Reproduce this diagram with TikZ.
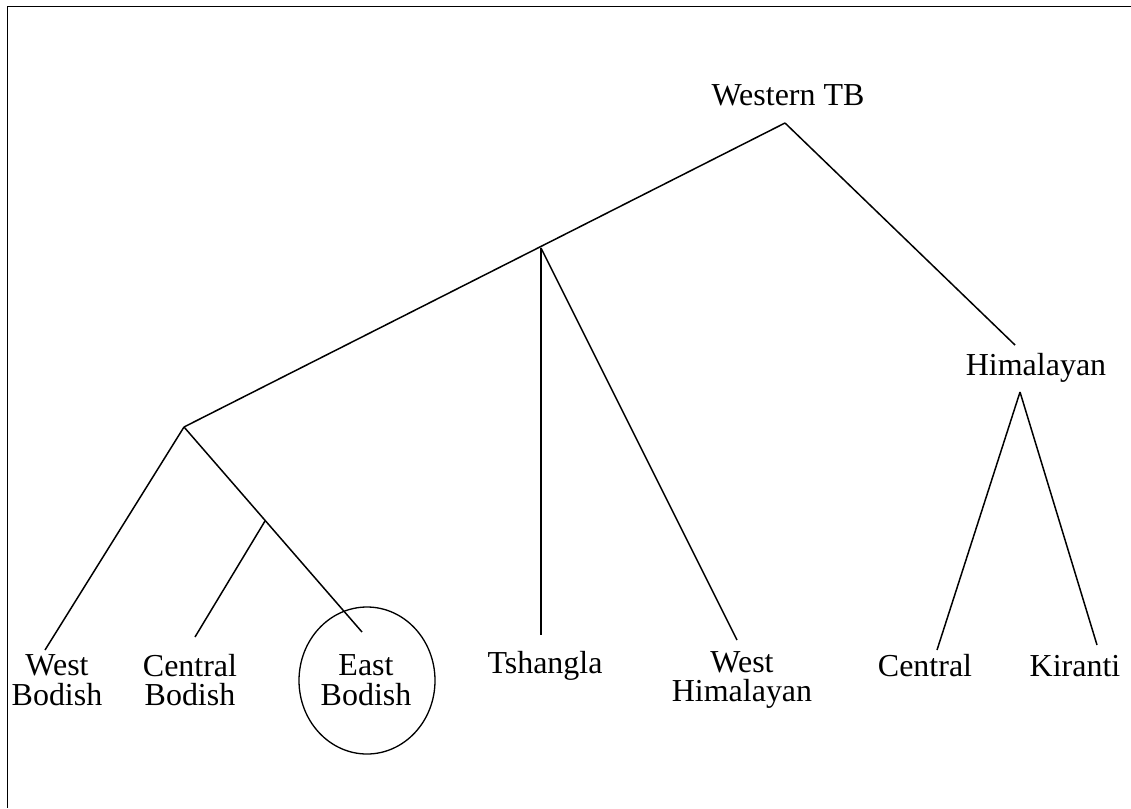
\documentclass[tikz,border=0pt]{standalone}
\usepackage{fontspec}
\setmainfont{Liberation Serif}
\tikzset{
  lang/.style={font=\fontsize{18.2}{17}\selectfont, align=center, inner sep=1pt},
  branch/.style={line width=0.85pt}
}
\begin{document}
\begin{tikzpicture}[x=0.02cm,y=-0.02cm]
  \useasboundingbox (0,0) rectangle (1131,808);
  \draw [line width=1.1pt] (1131,6.5) -- (7.5,6.5) -- (7.5,808);
  % labels
  \node [lang] (wtb) at (788,95) {Western TB};
  \node [lang] (him) at (1036,368) {Himalayan};
  \node [lang] (wbod) at (57,680) {West\\Bodish};
  \node [lang] (cbod) at (190,680) {Central\\Bodish};
  \node [lang] (ebod) at (366,680) {East\\Bodish};
  \node [lang] (tsh) at (545,666) {Tshangla};
  \node [lang] (whim) at (742,680) {West\\Himalayan};
  \node [lang] (chim) at (925,666) {Central};
  \node [lang] (kir) at (1075,666) {Kiranti};
  \draw [line width=0.75pt] (367,680.5) ellipse [x radius=68, y radius=73.5];
  % branch points and line ends
  \coordinate (top) at (785,123);
  \coordinate (mid) at (541,248);
  \coordinate (bod) at (184,427);
  \coordinate (ceb) at (265,521);
  \coordinate (himtop) at (1020,392);
  \coordinate (himend) at (1015,345);
  \coordinate (wbodend) at (45,650);
  \coordinate (cbodend) at (195,637);
  \coordinate (ebodend) at (362,632);
  \coordinate (tshend) at (541,635);
  \coordinate (whimend) at (737,640);
  \coordinate (chimend) at (937,650);
  \coordinate (kirend) at (1097,645);
  \draw [branch] (top) -- (bod);
  \draw [branch] (top) -- (himend);
  \draw [branch] (mid) -- (tshend);
  \draw [branch] (mid) -- (whimend);
  \draw [branch] (bod) -- (wbodend);
  \draw [branch] (bod) -- (ebodend);
  \draw [branch] (ceb) -- (cbodend);
  \draw [branch] (himtop) -- (chimend);
  \draw [branch] (himtop) -- (kirend);
\end{tikzpicture}
\end{document}
